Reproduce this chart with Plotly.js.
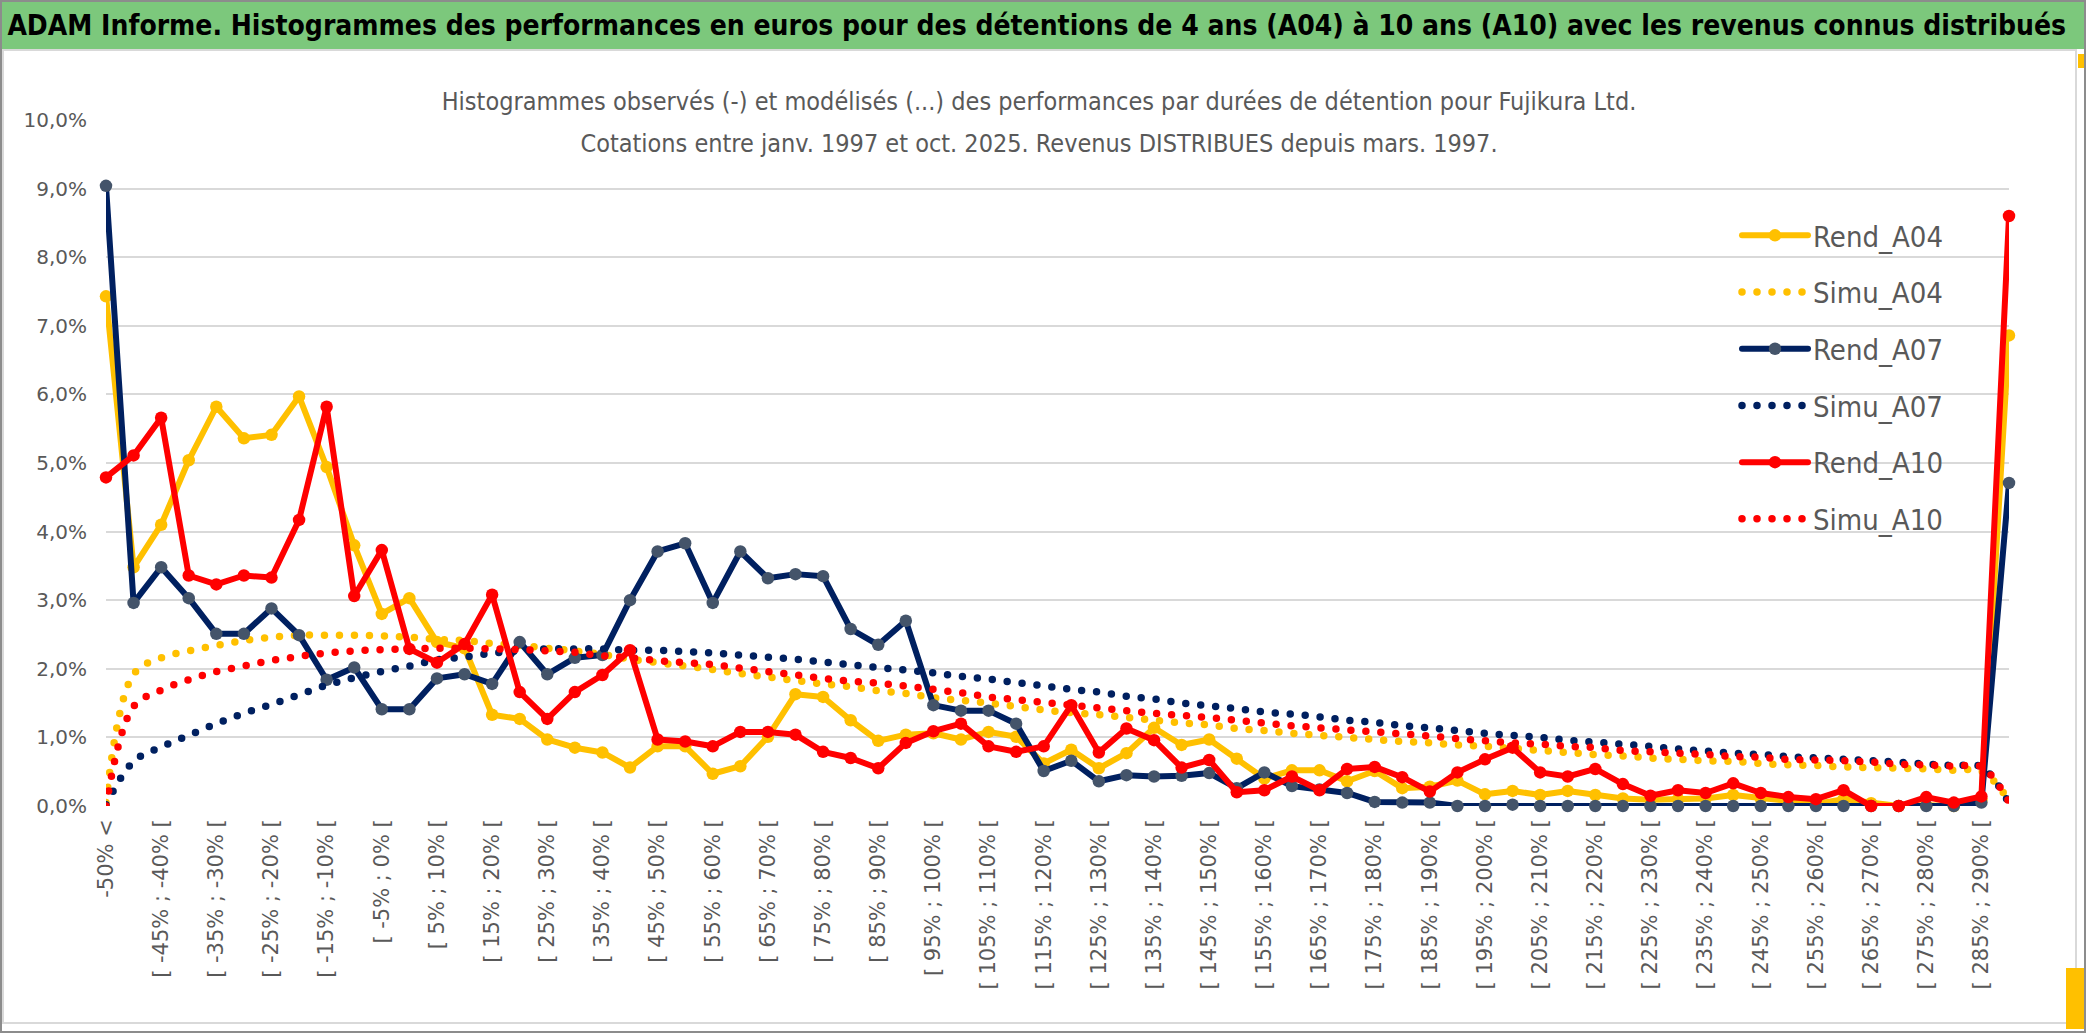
<!DOCTYPE html>
<html>
<head>
<meta charset="utf-8">
<script src="https://cdn.plot.ly/plotly-3.0.1.min.js"></script>
<style>
html,body{margin:0;padding:0;background:#fff;}
#chart{width:2086px;height:1033px;}
.js-line{stroke-linecap:round;stroke-linejoin:round;}
</style>
</head>
<body>
<div id="chart"></div>
<script>
// ---- categories (bins of 5%) ----
const categories = [
"-50% <","[ -50% ; -45% [","[ -45% ; -40% [","[ -40% ; -35% [","[ -35% ; -30% [","[ -30% ; -25% [",
"[ -25% ; -20% [","[ -20% ; -15% [","[ -15% ; -10% [","[ -10% ; -5% [","[ -5% ; 0% [","[ 0% ; 5% [",
"[ 5% ; 10% [","[ 10% ; 15% [","[ 15% ; 20% [","[ 20% ; 25% [","[ 25% ; 30% [","[ 30% ; 35% [",
"[ 35% ; 40% [","[ 40% ; 45% [","[ 45% ; 50% [","[ 50% ; 55% [","[ 55% ; 60% [","[ 60% ; 65% [",
"[ 65% ; 70% [","[ 70% ; 75% [","[ 75% ; 80% [","[ 80% ; 85% [","[ 85% ; 90% [","[ 90% ; 95% [",
"[ 95% ; 100% [","[ 100% ; 105% [","[ 105% ; 110% [","[ 110% ; 115% [","[ 115% ; 120% [","[ 120% ; 125% [",
"[ 125% ; 130% [","[ 130% ; 135% [","[ 135% ; 140% [","[ 140% ; 145% [","[ 145% ; 150% [","[ 150% ; 155% [",
"[ 155% ; 160% [","[ 160% ; 165% [","[ 165% ; 170% [","[ 170% ; 175% [","[ 175% ; 180% [","[ 180% ; 185% [",
"[ 185% ; 190% [","[ 190% ; 195% [","[ 195% ; 200% [","[ 200% ; 205% [","[ 205% ; 210% [","[ 210% ; 215% [",
"[ 215% ; 220% [","[ 220% ; 225% [","[ 225% ; 230% [","[ 230% ; 235% [","[ 235% ; 240% [","[ 240% ; 245% [",
"[ 245% ; 250% [","[ 250% ; 255% [","[ 255% ; 260% [","[ 260% ; 265% [","[ 265% ; 270% [","[ 270% ; 275% [",
"[ 275% ; 280% [","[ 280% ; 285% [","[ 285% ; 290% [","> 290%"
];
// labels shown on the axis (every second category)
const tickLabels = [
"-50% <","[ -45% ; -40% [","[ -35% ; -30% [","[ -25% ; -20% [","[ -15% ; -10% [","[ -5% ; 0% [",
"[ 5% ; 10% [","[ 15% ; 20% [","[ 25% ; 30% [","[ 35% ; 40% [","[ 45% ; 50% [","[ 55% ; 60% [",
"[ 65% ; 70% [","[ 75% ; 80% [","[ 85% ; 90% [","[ 95% ; 100% [","[ 105% ; 110% [","[ 115% ; 120% [",
"[ 125% ; 130% [","[ 135% ; 140% [","[ 145% ; 150% [","[ 155% ; 160% [","[ 165% ; 170% [","[ 175% ; 180% [",
"[ 185% ; 190% [","[ 195% ; 200% [","[ 205% ; 210% [","[ 215% ; 220% [","[ 225% ; 230% [","[ 235% ; 240% [",
"[ 245% ; 250% [","[ 255% ; 260% [","[ 265% ; 270% [","[ 275% ; 280% [","[ 285% ; 290% ["
];
// gridline positions (category index, every fourth)
const gridPositions = [0,4,8,12,16,20,24,28,32,36,40,44,48,52,56,60,64,68];

// ---- series values (% of occurrences) ----
const rendA04 = [7.43,3.48,4.10,5.04,5.82,5.36,5.41,5.97,4.94,3.80,2.80,3.03,2.39,2.30,1.33,1.27,0.97,0.85,
0.78,0.56,0.87,0.87,0.47,0.58,1.01,1.63,1.59,1.25,0.95,1.04,1.06,0.97,1.08,1.01,0.62,0.82,
0.55,0.77,1.14,0.89,0.97,0.69,0.40,0.52,0.52,0.36,0.51,0.26,0.28,0.37,0.17,0.22,0.16,0.22,
0.16,0.11,0.09,0.10,0.11,0.16,0.11,0.08,0.03,0.10,0.04,0.00,0.01,0.00,0.09,6.86];
const simuA04 = [0.05,1.92,2.16,2.26,2.34,2.41,2.46,2.49,2.49,2.49,2.48,2.46,2.43,2.41,2.37,2.34,2.30,2.26,
2.21,2.14,2.09,2.04,1.99,1.93,1.88,1.83,1.78,1.74,1.68,1.64,1.58,1.54,1.50,1.45,1.40,1.36,
1.33,1.29,1.25,1.21,1.18,1.13,1.10,1.06,1.03,1.00,0.97,0.94,0.92,0.89,0.87,0.84,0.81,0.78,
0.75,0.73,0.70,0.68,0.66,0.65,0.62,0.60,0.59,0.57,0.56,0.55,0.54,0.52,0.51,0.08];
const rendA07 = [9.04,2.96,3.48,3.03,2.51,2.51,2.88,2.49,1.84,2.02,1.41,1.41,1.86,1.92,1.78,2.39,1.92,2.16,
2.20,3.00,3.71,3.83,2.96,3.71,3.32,3.38,3.35,2.58,2.35,2.70,1.47,1.39,1.39,1.20,0.51,0.66,
0.36,0.45,0.43,0.44,0.48,0.26,0.49,0.29,0.24,0.19,0.06,0.05,0.05,0.00,0.00,0.02,0.00,0.00,
0.00,0.00,0.00,0.00,0.00,0.00,0.00,0.00,0.00,0.00,0.00,0.00,0.00,0.00,0.05,4.71];
const simuA07 = [0.02,0.65,0.86,1.03,1.20,1.35,1.48,1.62,1.76,1.87,1.96,2.04,2.13,2.17,2.23,2.26,2.29,2.29,
2.29,2.27,2.27,2.25,2.23,2.20,2.17,2.14,2.10,2.06,2.02,1.98,1.94,1.89,1.85,1.80,1.75,1.70,
1.66,1.60,1.56,1.50,1.46,1.42,1.37,1.34,1.30,1.25,1.22,1.17,1.14,1.10,1.06,1.03,1.00,0.96,
0.93,0.90,0.87,0.83,0.80,0.77,0.75,0.72,0.70,0.68,0.66,0.64,0.61,0.59,0.57,0.04];
const rendA10 = [4.79,5.11,5.66,3.36,3.23,3.36,3.33,4.17,5.82,3.06,3.73,2.29,2.09,2.36,3.08,1.66,1.27,1.66,
1.91,2.27,0.97,0.94,0.87,1.08,1.08,1.04,0.79,0.70,0.55,0.92,1.09,1.20,0.87,0.79,0.87,1.47,
0.78,1.13,0.96,0.56,0.67,0.20,0.23,0.43,0.23,0.54,0.57,0.42,0.21,0.49,0.68,0.85,0.49,0.43,
0.54,0.32,0.15,0.23,0.19,0.33,0.19,0.13,0.10,0.23,0.00,0.00,0.13,0.05,0.14,8.60];
const simuA10 = [0.00,1.45,1.69,1.84,1.96,2.04,2.12,2.18,2.23,2.26,2.28,2.29,2.30,2.30,2.29,2.28,2.26,2.24,
2.19,2.16,2.12,2.09,2.06,2.01,1.96,1.91,1.86,1.82,1.79,1.75,1.70,1.65,1.59,1.55,1.51,1.47,
1.43,1.39,1.35,1.32,1.29,1.25,1.21,1.17,1.14,1.11,1.08,1.05,1.02,0.98,0.95,0.92,0.90,0.87,
0.85,0.81,0.79,0.77,0.75,0.72,0.71,0.68,0.67,0.66,0.64,0.61,0.60,0.58,0.57,0.06];

const seriesNames = ["Rend_A04","Simu_A04","Rend_A07","Simu_A07","Rend_A10","Simu_A10"];

// ---- styles ----
const YEL = "#ffc000", NAVY = "#002060", RED = "#ff0000", NAVYMK = "#44546a";
const narrow = "Liberation Sans Narrow, DejaVu Sans Condensed, Arial Narrow, sans-serif";

function rend(name, y, lineColor, markerColor, grp) {
  return {type: "scatter", mode: "lines+markers", name: name, x: categories, y: y,
    legendgroup: grp, cliponaxis: false,
    line: {color: lineColor, width: 6},
    marker: {color: markerColor, size: 12.5, line: {width: 0}},
    hovertemplate: "%{x}<br>%{y:.2f}%<extra>" + name + "</extra>"};
}
function simu(name, y, color, grp) {
  return {type: "scatter", mode: "lines", name: name, x: categories, y: y,
    legendgroup: grp, cliponaxis: false,
    line: {color: color, width: 7.5, dash: "0px,15px", shape: "spline", smoothing: 1},
    hovertemplate: "%{x}<br>%{y:.2f}%<extra>" + name + "</extra>"};
}

const data = [
  rend(seriesNames[0], rendA04, YEL, YEL, "g1"),
  simu(seriesNames[1], simuA04, YEL, "g2"),
  rend(seriesNames[2], rendA07, NAVY, NAVYMK, "g3"),
  simu(seriesNames[3], simuA07, NAVY, "g4"),
  rend(seriesNames[4], rendA10, RED, RED, "g5"),
  simu(seriesNames[5], simuA10, RED, "g6")
];

// plot area in pixels: left 106, right 2009, top 120, bottom 806
const W = 2086, H = 1033, L = 106, R = 77, T = 120, B = 227;
const PW = W - L - R, PH = H - T - B;
const px = X => (X - L) / PW;
const py = Y => (H - B - Y) / PH;

const layout = {
  width: W, height: H,
  margin: {l: L, r: R, t: T, b: B, pad: 0},
  paper_bgcolor: "#ffffff", plot_bgcolor: "#ffffff",
  separators: ", ",
  showlegend: true,
  title: {
    text: "<b>ADAM Informe. Histogrammes des performances en euros pour des détentions de 4 ans (A04) à 10 ans (A10) avec les revenus connus distribués</b>",
    font: {family: narrow, size: 28, color: "#000000"},
    x: 0.497, xanchor: "center", xref: "container",
    y: 1 - 25 / H, yanchor: "middle", yref: "container"
  },
  xaxis: {
    type: "category", categoryorder: "array", categoryarray: categories,
    range: [0, 69], fixedrange: true,
    tickmode: "array", tickvals: tickLabels, ticktext: tickLabels,
    tickangle: -90, tickfont: {family: "DejaVu Sans, Verdana, sans-serif", size: 21, color: "#595959"},
    ticks: "", ticklabelstandoff: 8,
    showgrid: false, showline: false, zeroline: false
  },
  xaxis2: {
    overlaying: "x", anchor: "y", side: "bottom",
    range: [0, 69], fixedrange: true,
    tickmode: "array", tickvals: gridPositions, showticklabels: false,
    ticks: "outside", ticklen: 8, tickwidth: 1.5, tickcolor: "#d9d9d9",
    showgrid: true, gridcolor: "#d9d9d9", gridwidth: 1.5,
    showline: true, linecolor: "#d9d9d9", linewidth: 1.5, zeroline: false
  },
  yaxis: {
    range: [0, 10], dtick: 1, tick0: 0, fixedrange: true,
    tickformat: ".1f", ticksuffix: "%",
    tickfont: {family: "DejaVu Sans, Verdana, sans-serif", size: 20, color: "#595959"},
    ticks: "", ticklabelstandoff: 18,
    showgrid: true, gridcolor: "#d9d9d9", gridwidth: 1.5,
    zeroline: false, showline: false
  },
  legend: {
    x: px(1737), xanchor: "left", y: py(210), yanchor: "top",
    bgcolor: "rgba(255,255,255,0)", borderwidth: 0,
    font: {family: narrow, size: 29, color: "#595959"},
    itemwidth: 66, tracegroupgap: 16, traceorder: "grouped"
  },
  annotations: [
    {text: "Histogrammes observés (-) et modélisés (...) des performances par durées de détention pour Fujikura Ltd.",
     xref: "paper", yref: "paper", x: px(1039), y: py(101), xanchor: "center", yanchor: "middle",
     showarrow: false, font: {family: narrow, size: 25, color: "#595959"},
     bgcolor: "#ffffff", width: 1194, height: 44},
    {text: "Cotations entre janv. 1997 et oct. 2025. Revenus DISTRIBUES depuis mars. 1997.",
     xref: "paper", yref: "paper", x: px(1039), y: py(143), xanchor: "center", yanchor: "middle",
     showarrow: false, font: {family: narrow, size: 25, color: "#595959"},
     bgcolor: "#ffffff", width: 1194, height: 46}
  ],
  shapes: [
    // green title band
    {type: "rect", xref: "paper", yref: "paper", layer: "below",
     x0: px(0), x1: px(W), y0: py(49), y1: py(0),
     fillcolor: "#7cc87c", line: {width: 0}},
    // light chart frame
    {type: "rect", xref: "paper", yref: "paper", layer: "below",
     x0: px(3), x1: px(W - 10), y0: py(H - 10), y1: py(50),
     fillcolor: "rgba(0,0,0,0)", line: {color: "#d9d9d9", width: 2}},
    // yellow selection marks at the right edge
    {type: "rect", xref: "paper", yref: "paper", layer: "below",
     x0: px(W - 20), x1: px(W - 2), y0: py(H - 4), y1: py(968),
     fillcolor: "#ffc000", line: {width: 0}},
    {type: "rect", xref: "paper", yref: "paper", layer: "below",
     x0: px(W - 8), x1: px(W - 2), y0: py(68), y1: py(54),
     fillcolor: "#ffc000", line: {width: 0}},
    // outer border
    {type: "rect", xref: "paper", yref: "paper", layer: "above",
     x0: px(1), x1: px(W - 1), y0: py(H - 1), y1: py(1),
     fillcolor: "rgba(0,0,0,0)", line: {color: "#8c8c8c", width: 2}}
  ]
};

Plotly.newPlot("chart", data, layout, {displayModeBar: false, responsive: false});
</script>
</body>
</html>
